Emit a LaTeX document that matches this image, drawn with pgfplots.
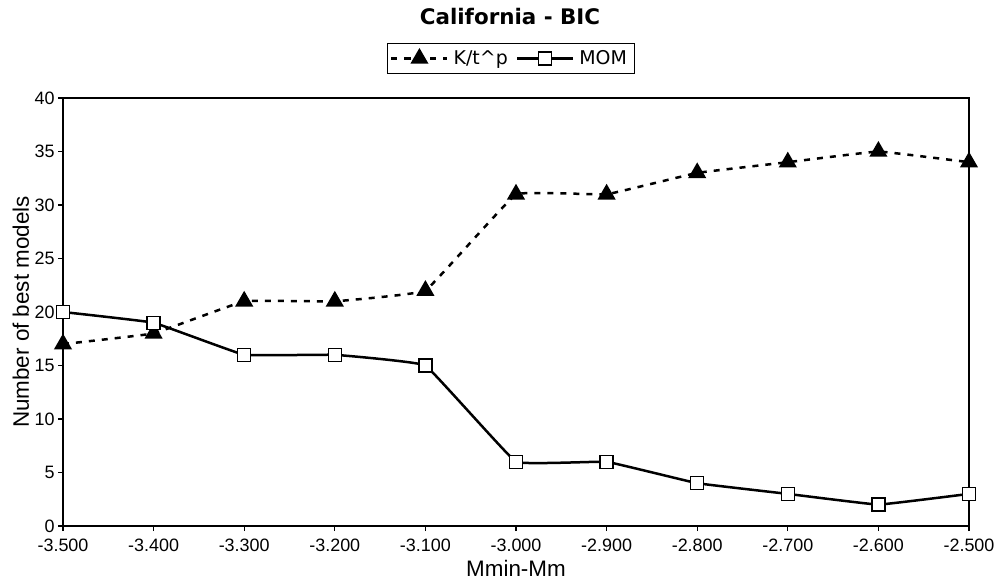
\documentclass[border=0pt]{standalone}
\usepackage{fontspec}
\setmainfont{Liberation Sans}
\newfontfamily\dejavu{DejaVu Sans}
\usepackage{pgfplots}
\pgfplotsset{compat=1.18}
\begin{document}
\begin{tikzpicture}
\useasboundingbox (-63bp,-56bp) rectangle (937bp,526bp);
\begin{axis}[
  at={(0,0)}, anchor=south west,
  scale only axis, width=906bp, height=428bp,
  xmin=-3.5, xmax=-2.5, ymin=0, ymax=40,
  xtick={-3.5,-3.4,-3.3,-3.2,-3.1,-3.0,-2.9,-2.8,-2.7,-2.6,-2.5},
  xticklabels={-3.500,-3.400,-3.300,-3.200,-3.100,-3.000,-2.900,-2.800,-2.700,-2.600,-2.500},
  ytick={0,5,...,40},
  tick align=outside, tick pos=left,
  major tick length=5bp,
  axis line style={line width=1.2bp},
  tick style={line width=1.2bp, black},
  /pgf/number format/assume math mode=true,
  tick label style={font=\fontsize{18}{20}\selectfont},
  xticklabel style={yshift=-4bp},
  clip=false,
  xlabel={Mmin-Mm},
  ylabel={Number of best models},
  label style={font=\fontsize{22.5}{25}\selectfont},
  xlabel style={at={(axis description cs:0.5,0)}, anchor=center, yshift=-42bp},
  ylabel style={at={(axis description cs:-0.0464,0.5)}, anchor=center},
  title={California - BIC},
  title style={font=\dejavu\bfseries\fontsize{21.5}{24}\selectfont, at={(axis description cs:0.4934,1)}, anchor=center, yshift=76bp},
  legend columns=2,
  legend style={font=\dejavu\fontsize{19}{21}\selectfont, at={(axis description cs:0.4945,1)}, anchor=center, yshift=39.5bp, draw=black, line width=1bp, inner xsep=3bp, inner ysep=5bp, nodes={inner xsep=5bp}, /tikz/every even column/.append style={column sep=3bp}},
  legend image code/.code={\draw[mark repeat=2, mark phase=2] plot coordinates {(0bp,0bp) (28bp,0bp) (56bp,0bp)};},
]
\addplot[black, line width=2.5bp, dash pattern=on 6bp off 7bp, smooth, tension=0.12,
  mark=triangle*, mark size=8bp, mark options={solid, fill=black}]
  coordinates {(-3.5,17) (-3.4,18) (-3.3,21) (-3.2,21) (-3.1,22) (-3.0,31) (-2.9,31) (-2.8,33) (-2.7,34) (-2.6,35) (-2.5,34)};
\addlegendentry{K/t\textasciicircum p}
\addplot[black, line width=2.5bp, smooth, tension=0.12,
  mark=square*, mark size=6.5bp, mark options={solid, fill=white, line width=1.3bp}]
  coordinates {(-3.5,20) (-3.4,19) (-3.3,16) (-3.2,16) (-3.1,15) (-3.0,6) (-2.9,6) (-2.8,4) (-2.7,3) (-2.6,2) (-2.5,3)};
\addlegendentry{MOM}
\end{axis}
\end{tikzpicture}
\end{document}
